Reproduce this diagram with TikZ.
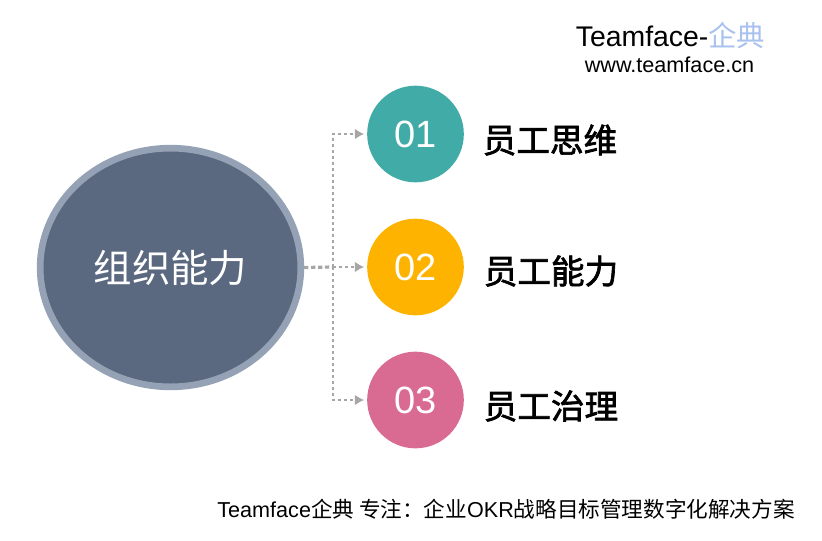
\documentclass[tikz,border=0pt]{standalone}
\usepackage{fontspec}
\setmainfont{Liberation Sans}
\newfontfamily\cjk{Noto Sans CJK SC}
\newfontfamily\cjkheavy[FakeBold=2]{Noto Sans CJK SC}
\usetikzlibrary{shapes.geometric, arrows.meta}
\definecolor{slatefill}{HTML}{5A6880}
\definecolor{slateedge}{HTML}{95A2B5}
\definecolor{tealfill}{HTML}{41ABA7}
\definecolor{amberfill}{HTML}{FDB300}
\definecolor{rosefill}{HTML}{D96A91}
\definecolor{linkgray}{HTML}{A6A6A6}
\definecolor{logoblue}{HTML}{A9C1EE}
\tikzset{
    numdot/.style={circle, minimum size=72.5pt, inner sep=0pt, text=white, font=\fontsize{28.5}{30}\selectfont},
    itemlabel/.style={anchor=west, inner sep=0pt, font=\cjkheavy\fontsize{25.2}{30}\selectfont},
    trunkline/.style={linkgray, line width=2.4pt, dash pattern=on 3.2pt off 2pt},
    branchline/.style={linkgray, line width=2pt, dash pattern=on 2pt off 2.5pt, -{Latex[length=7pt, width=8pt]}, shorten >=2pt}
}
\begin{document}
\begin{tikzpicture}[x=0.75pt, y=-0.75pt]
                \useasboundingbox (0, 0) rectangle (822, 540);
                \node [ellipse, draw=slateedge, fill=slatefill, line width=5pt, minimum width=195.5pt, minimum height=179pt, inner sep=0pt, text=white, font=\cjk\fontsize{28.8}{32}\selectfont] (ability) at (170.5, 267.5) {组织能力};
                \node [numdot, fill=tealfill] (one) at (415.5, 134) {01};
                \node [numdot, fill=amberfill] (two) at (415.5, 267) {02};
                \node [numdot, fill=rosefill] (three) at (415.5, 400) {03};
                \node [itemlabel] (thinking) at (482.5, 140) {员工思维};
                \node [itemlabel] (skills) at (483.5, 271) {员工能力};
                \node [itemlabel] (governance) at (483.5, 406) {员工治理};
                \coordinate (fork) at (333, 267);
                \draw [trunkline] (ability.east) -- (fork);
                \draw [branchline] (fork) -- (two.west);
                \draw [branchline] (fork) |- (one.west);
                \draw [branchline] (fork) |- (three.west);
                \node [inner sep=0pt, font=\fontsize{21.3}{24}\selectfont] (brand) at (670.5, 36) {Teamface-{\cjk\color{logoblue}企典}};
                \node [inner sep=0pt, font=\fontsize{16.2}{20}\selectfont] (site) at (669.5, 65) {www.teamface.cn};
                \node [inner sep=0pt, font=\fontsize{16.2}{20}\selectfont] (slogan) at (506, 509) {Teamface{\cjk 企典 专注：企业}OKR{\cjk 战略目标管理数字化解决方案}};
            \end{tikzpicture}
\end{document}
